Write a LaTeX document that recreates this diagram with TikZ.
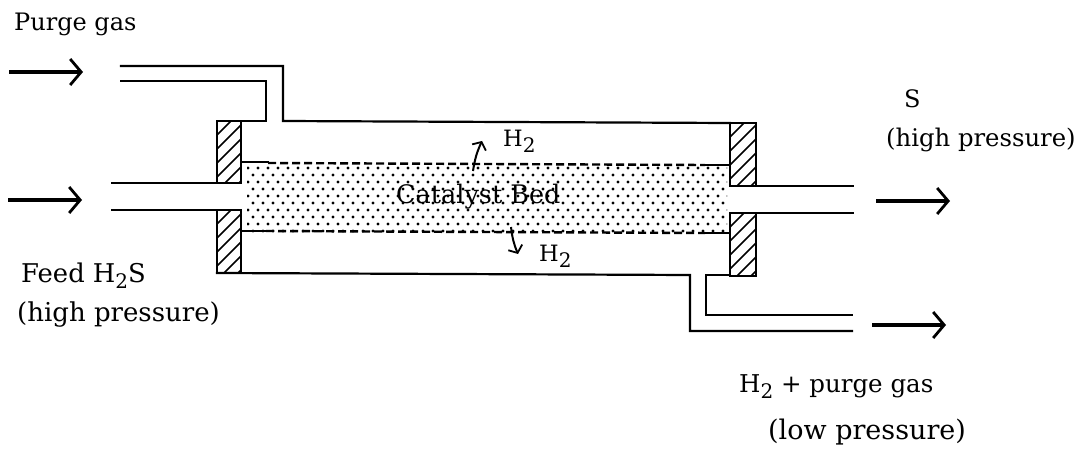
\documentclass[tikz,border=0pt]{standalone}
\usepackage{fontspec}
\setmainfont{DejaVu Serif}
\usetikzlibrary{arrows.meta}
\tikzset{
  wall/.style={line width=2.2pt,line cap=rect,line join=miter},
  flow/.style={line width=4pt,-{Straight Barb[length=11pt,width=26pt,line width=2.8pt]}},
  small/.style={line width=2pt,-{Straight Barb[length=6pt,width=15pt,line width=1.8pt]}},
  lab/.style={inner sep=0pt,font=\fontsize{#1}{26}\selectfont},
  lab/.default=24,
  bed/.style={line width=2.4pt,dash pattern=on 8pt off 4pt},
  hatchline/.style={line width=1.6pt}
}
\newcommand{\subtwo}{\raisebox{-6pt}{\fontsize{20}{20}\selectfont 2}}
\newcommand{\flange}[4]{%
  \begin{scope}
    \clip (#1,#2) rectangle (#3,#4);
    \foreach \k in {-6,...,12}{
      \draw[hatchline] ({#1-2},{#2+\k*14+30}) -- ++(32,-32);
    }
  \end{scope}
  \draw[line width=2.6pt] (#1,#2) rectangle (#3,#4);
}
\begin{document}
\begin{tikzpicture}[x=1pt,y=-1pt]
\useasboundingbox (0,0) rectangle (1086,457);
% catalyst dots
\begin{scope}
  \clip (247,165) rectangle (727,233);
  \foreach \r in {0,...,9}{
    \pgfmathsetmacro{\yy}{168+\r*7}
    \pgfmathsetmacro{\off}{mod(\r,2)*5}
    \foreach \c in {0,...,48}{
      \fill ({248+\off+\c*10},\yy) circle (1.6pt);
    }
  }
\end{scope}
% bed edges
\draw[wall] (241,162) -- (268,162);
\draw[bed] (268,163) -- (705,165);
\draw[wall] (705,165) -- (730,165);
\draw[wall] (241,231) -- (266,231);
\draw[bed] (266,231) -- (705,233);
\draw[wall] (705,233) -- (730,233);
% flanges
\flange{217}{121}{241}{183}
\flange{217}{210}{241}{273}
\flange{730}{123}{756}{186}
\flange{730}{213}{756}{276}
% shell and pipes
\draw[wall] (121,66) -- (283,66) -- (283,121) -- (730,123);
\draw[wall] (121,81) -- (266,81) -- (266,121) -- (217,121);
\draw[wall] (112,183) -- (241,183);
\draw[wall] (112,210) -- (241,210);
\draw[wall] (756,186) -- (853,186);
\draw[wall] (756,213) -- (853,213);
\draw[wall] (217,273) -- (690,275) -- (690,331) -- (852,331);
\draw[wall] (730,275) -- (706,275) -- (706,315) -- (852,315);
% flow arrows
\coordinate (a1) at (9,72); \coordinate (a2) at (83,72);
\coordinate (b1) at (8,200); \coordinate (b2) at (82,200);
\coordinate (c1) at (876,201); \coordinate (c2) at (950,201);
\coordinate (d1) at (872,325); \coordinate (d2) at (946,325);
\draw[flow] (a1) -- (a2);
\draw[flow] (b1) -- (b2);
\draw[flow] (c1) -- (c2);
\draw[flow] (d1) -- (d2);
% H2 arrows
\coordinate (e1) at (473,171); \coordinate (e2) at (482,141);
\coordinate (f1) at (511,227); \coordinate (f2) at (518,254);
\draw[small] (e1) to[bend left=8] (e2);
\draw[small] (f1) to[bend right=8] (f2);
% labels
\node[lab=24,anchor=west] (purge) at (14,24) {Purge gas};
\node[lab=25.8,anchor=west] (feed) at (21,276) {Feed H\subtwo S};
\node[lab=26,anchor=west] (hpl) at (17,315) {(high pressure)};
\node[lab=24,anchor=west] (s) at (904,99) {S};
\node[lab=24.3,anchor=west] (hpr) at (886,140) {(high pressure)};
\node[lab=25.5,anchor=west] (cat) at (396,197) {Catalyst Bed};
\node[lab=22.5,anchor=west] (ht) at (503,141) {H\subtwo};
\node[lab=22.5,anchor=west] (hb) at (539,256) {H\subtwo};
\node[lab=24.5,anchor=west] (hp) at (739,387) {H\subtwo{} + purge gas};
\node[lab=27,anchor=west] (lp) at (768,432) {(low pressure)};
\end{tikzpicture}
\end{document}
